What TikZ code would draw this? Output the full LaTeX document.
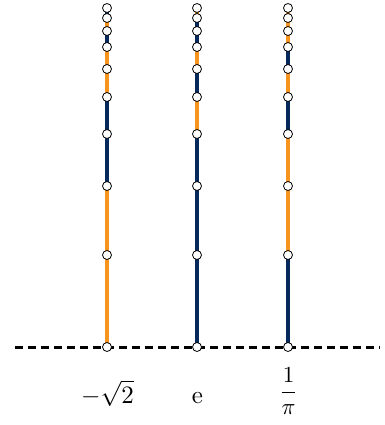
\documentclass[tikz,border=0pt]{standalone}
\usepackage{amsmath}
\definecolor{orng}{RGB}{247,148,30}
\definecolor{navyb}{RGB}{6,41,92}
\pgfdeclarelayer{bg}
\pgfsetlayers{bg,main}
\tikzset{
  ringdot/.style={circle,draw=black,fill=white,line width=0.8pt,minimum size=9pt,inner sep=0pt},
  seg/.style={line width=4pt},
  o/.style={seg,draw=orng},
  n/.style={seg,draw=navyb},
  lbl/.style={inner sep=0pt,anchor=base}
}
\newcommand\mycolumn[3]{%
  \foreach \yy [count=\i from 0] in {347,255,186,134,97,69,47,31,18,8} {
    \node[ringdot] (#1\i) at (#2,\yy) {};
  }
  \begin{pgfonlayer}{bg}
  \foreach \c [count=\i from 0] in {#3} {
    \pgfmathtruncatemacro\j{\i+1}
    \draw[\c] (#1\i.center) -- (#1\j.center);
  }
  \end{pgfonlayer}
}
\begin{document}
\begin{tikzpicture}[x=1pt,y=-1pt]
\useasboundingbox (0,0) rectangle (384,425);
\coordinate (dl) at (15,347);
\coordinate (dr) at (380,347);
\begin{pgfonlayer}{bg}
\draw[line width=3pt,dash pattern=on 8pt off 5pt] (dl) -- (dr);
\end{pgfonlayer}
\mycolumn{a}{107}{o,o,n,n,o,o,n,o,n}
\mycolumn{b}{197}{n,n,n,o,n,o,n,n,o}
\mycolumn{c}{288}{n,o,o,n,o,n,o,o,o}
\node[lbl] (la) at (107.5,403) {\scalebox{2.5}{$-\sqrt{2}$}};
\node[lbl] (lb) at (197.5,403) {\scalebox{2.5}{$\mathrm{e}$}};
\node[lbl] (lc) at (288.5,398.5) {\scalebox{2.3}{$\dfrac{1}{\pi}$}};
\end{tikzpicture}
\end{document}
